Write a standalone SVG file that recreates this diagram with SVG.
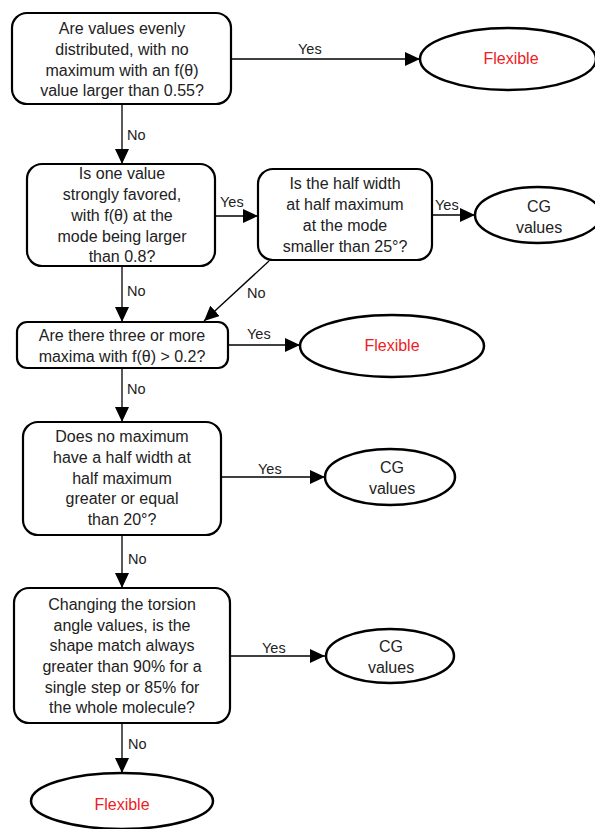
<svg xmlns="http://www.w3.org/2000/svg" width="595" height="829" viewBox="0 0 595 829">
<style>
.box{fill:#fff;stroke:#000;stroke-width:2.2}
.term{fill:#fff;stroke:#000;stroke-width:2.5}
.t{font-family:"Liberation Sans",Arial,sans-serif;font-size:16px;fill:#222;text-anchor:middle}
.r{fill:#ee1c25}
.lbl{font-family:"Liberation Sans",Arial,sans-serif;font-size:14.5px;fill:#222}
.c{stroke:#000;stroke-width:1.3;fill:none;marker-end:url(#ah)}
</style>
<defs>
<marker id="ah" markerUnits="userSpaceOnUse" markerWidth="16" markerHeight="14" refX="15" refY="7" orient="auto">
<path d="M0,0 L15,7 L0,14 z" fill="#000"/>
</marker>
</defs>
<g id="connectors">
<line class="c" x1="231" y1="59" x2="420" y2="59"/>
<line class="c" x1="122" y1="104" x2="122" y2="164"/>
<line class="c" x1="215" y1="216" x2="258" y2="216"/>
<line class="c" x1="432" y1="215" x2="475" y2="215"/>
<line class="c" x1="122" y1="266" x2="122" y2="322"/>
<line class="c" x1="269" y1="261" x2="204" y2="321"/>
<line class="c" x1="228" y1="345" x2="300" y2="345"/>
<line class="c" x1="122" y1="368" x2="122" y2="422"/>
<line class="c" x1="221" y1="477" x2="325" y2="477"/>
<line class="c" x1="122" y1="535" x2="122" y2="588"/>
<line class="c" x1="230" y1="656" x2="325" y2="656"/>
<line class="c" x1="122" y1="723" x2="122" y2="773"/>
<text class="lbl" x="298" y="54">Yes</text>
<text class="lbl" x="127" y="140">No</text>
<text class="lbl" x="220" y="207">Yes</text>
<text class="lbl" x="435" y="210">Yes</text>
<text class="lbl" x="127" y="296">No</text>
<text class="lbl" x="247" y="298">No</text>
<text class="lbl" x="247" y="339">Yes</text>
<text class="lbl" x="127" y="394">No</text>
<text class="lbl" x="258" y="474">Yes</text>
<text class="lbl" x="128" y="564">No</text>
<text class="lbl" x="262" y="653">Yes</text>
<text class="lbl" x="128" y="749">No</text>
</g>
<g id="q1">
<rect class="box" x="12" y="13" width="219" height="91" rx="15"/>
<text class="t" x="122" y="34">Are values evenly</text>
<text class="t" x="122" y="55">distributed, with no</text>
<text class="t" x="122" y="76">maximum with an f(θ)</text>
<text class="t" x="122" y="96">value larger than 0.55?</text>
</g>
<g id="flex1">
<ellipse class="term" cx="508" cy="59" rx="88" ry="31"/>
<text class="t r" x="511" y="64">Flexible</text>
</g>
<g id="q2">
<rect class="box" x="27" y="164" width="188" height="102" rx="15"/>
<text class="t" x="122" y="179">Is one value</text>
<text class="t" x="122" y="200">strongly favored,</text>
<text class="t" x="122" y="221">with f(θ) at the</text>
<text class="t" x="122" y="242">mode being larger</text>
<text class="t" x="122" y="262">than 0.8?</text>
</g>
<g id="q3">
<rect class="box" x="258" y="169" width="174" height="91" rx="15"/>
<text class="t" x="345" y="189">Is the half width</text>
<text class="t" x="345" y="210">at half maximum</text>
<text class="t" x="345" y="231">at the mode</text>
<text class="t" x="345" y="252">smaller than 25°?</text>
</g>
<g id="cg1">
<ellipse class="term" cx="538" cy="215" rx="63" ry="28"/>
<text class="t" x="539" y="212">CG</text>
<text class="t" x="539" y="233">values</text>
</g>
<g id="q4">
<rect class="box" x="17" y="322" width="211" height="46" rx="10"/>
<text class="t" x="122" y="341">Are there three or more</text>
<text class="t" x="122" y="362">maxima with f(θ) &gt; 0.2?</text>
</g>
<g id="flex2">
<ellipse class="term" cx="392" cy="346" rx="92" ry="31"/>
<text class="t r" x="392" y="351">Flexible</text>
</g>
<g id="q5">
<rect class="box" x="23" y="422" width="198" height="113" rx="15"/>
<text class="t" x="122" y="442">Does no maximum</text>
<text class="t" x="122" y="463">have a half width at</text>
<text class="t" x="122" y="484">half maximum</text>
<text class="t" x="122" y="504">greater or equal</text>
<text class="t" x="122" y="525">than 20°?</text>
</g>
<g id="cg2">
<ellipse class="term" cx="390" cy="477" rx="65" ry="28"/>
<text class="t" x="392" y="473">CG</text>
<text class="t" x="392" y="494">values</text>
</g>
<g id="q6">
<rect class="box" x="14" y="588" width="216" height="135" rx="15"/>
<text class="t" x="122" y="610">Changing the torsion</text>
<text class="t" x="122" y="631">angle values, is the</text>
<text class="t" x="122" y="651">shape match always</text>
<text class="t" x="122" y="672">greater than 90% for a</text>
<text class="t" x="122" y="693">single step or 85% for</text>
<text class="t" x="122" y="713">the whole molecule?</text>
</g>
<g id="cg3">
<ellipse class="term" cx="390" cy="656" rx="64" ry="27"/>
<text class="t" x="391" y="652">CG</text>
<text class="t" x="391" y="673">values</text>
</g>
<g id="flex3">
<ellipse class="term" cx="122" cy="801" rx="91" ry="28"/>
<text class="t r" x="122" y="810">Flexible</text>
</g>
</svg>
